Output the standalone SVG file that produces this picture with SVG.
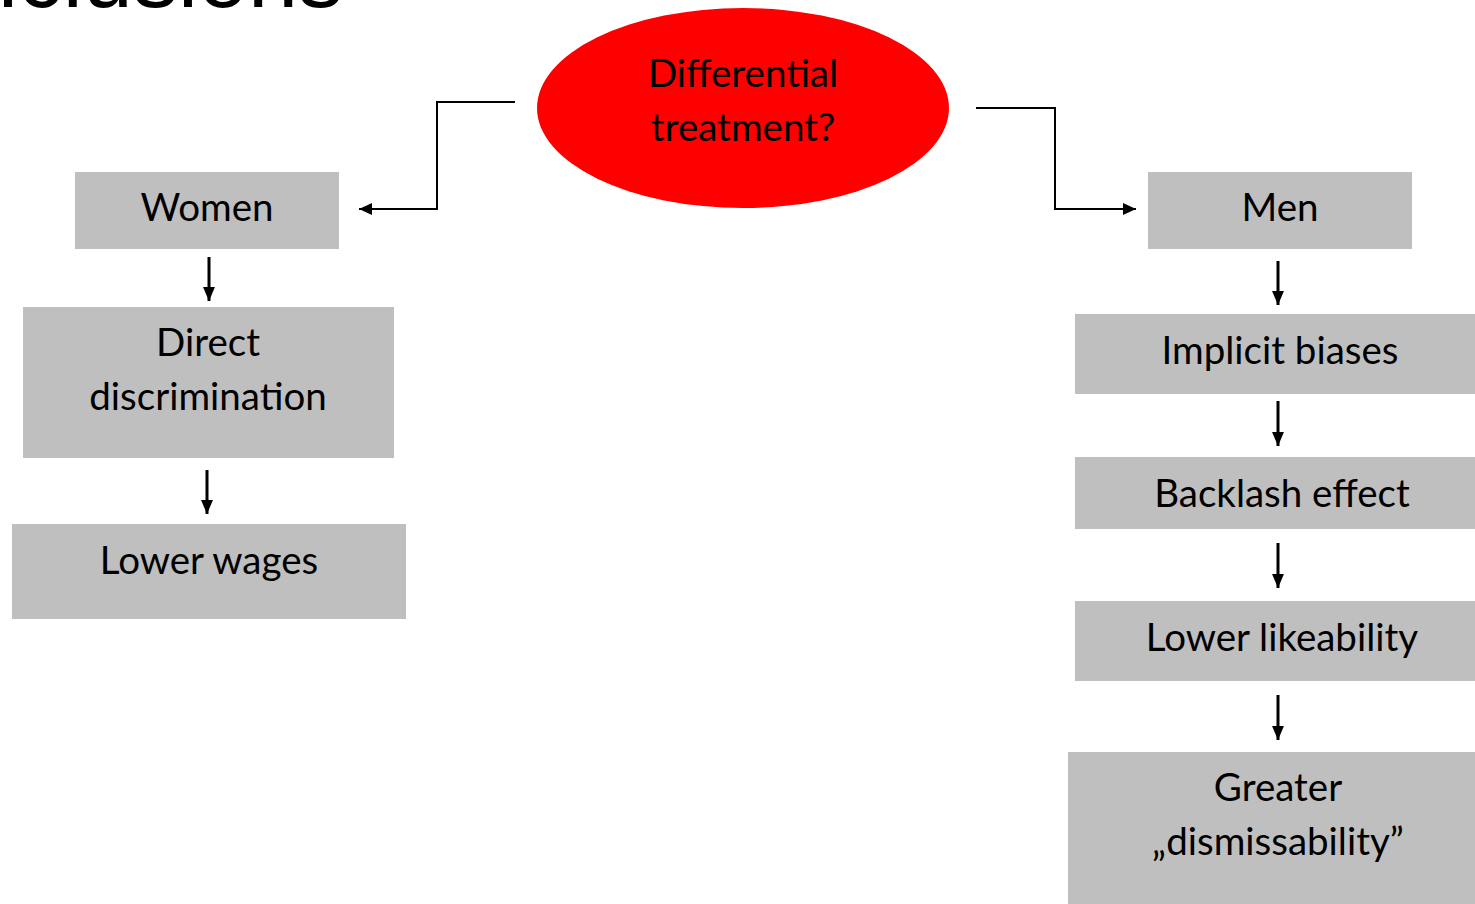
<svg xmlns="http://www.w3.org/2000/svg" width="1475" height="904" viewBox="0 0 1475 904">
  <defs>
    <marker id="head" viewBox="0 0 10 10" refX="10" refY="5" markerWidth="6.5" markerHeight="6" preserveAspectRatio="none" markerUnits="strokeWidth" orient="auto">
      <path d="M0,0 L10,5 L0,10 z" fill="#000"/>
    </marker>
    <marker id="headDown" viewBox="0 0 10 10" refX="10" refY="5" markerWidth="4.7" markerHeight="4" preserveAspectRatio="none" markerUnits="strokeWidth" orient="auto">
      <path d="M0,0 L10,5 L0,10 z" fill="#000"/>
    </marker>
    <style>
      .box { fill: #bfbfbf; }
      .lbl { font-family: Lato, "Open Sans", sans-serif; font-size: 38.5px; fill: #000; text-anchor: middle; }
      .title { font-family: "Liberation Sans", Arial, sans-serif; font-size: 90px; fill: #000; text-anchor: end; }
      .elbow { fill: none; stroke: #000; stroke-width: 2; marker-end: url(#head); }
      .down { fill: none; stroke: #000; stroke-width: 3; marker-end: url(#headDown); }
    </style>
  </defs>

  <rect width="1475" height="904" fill="#fff"/>

  <!-- slide heading, running off the top edge -->
  <text class="title" x="343" y="7">Conclusions</text>

  <g id="connectors">
    <polyline class="elbow" points="515,102 437,102 437,209 359,209"/>
    <polyline class="elbow" points="976,108 1055,108 1055,209 1136,209"/>
    <line class="down" x1="209" y1="257" x2="209" y2="301"/>
    <line class="down" x1="207" y1="470" x2="207" y2="514"/>
    <line class="down" x1="1278" y1="261" x2="1278" y2="305"/>
    <line class="down" x1="1278" y1="401" x2="1278" y2="446"/>
    <line class="down" x1="1278" y1="543" x2="1278" y2="588"/>
    <line class="down" x1="1278" y1="695" x2="1278" y2="740"/>
  </g>

  <g id="differential-treatment">
    <ellipse cx="743" cy="108" rx="206" ry="100" fill="#ff0000"/>
    <text class="lbl" x="743" y="87">Differential</text>
    <text class="lbl" x="743" y="141">treatment?</text>
  </g>

  <g id="women">
    <rect class="box" x="75" y="172" width="264" height="77"/>
    <text class="lbl" x="207" y="221">Women</text>
  </g>

  <g id="direct-discrimination">
    <rect class="box" x="23" y="307" width="371" height="151"/>
    <text class="lbl" x="208" y="356">Direct</text>
    <text class="lbl" x="208" y="410">discrimination</text>
  </g>

  <g id="lower-wages">
    <rect class="box" x="12" y="524" width="394" height="95"/>
    <text class="lbl" x="209" y="574">Lower wages</text>
  </g>

  <g id="men">
    <rect class="box" x="1148" y="172" width="264" height="77"/>
    <text class="lbl" x="1280" y="221">Men</text>
  </g>

  <g id="implicit-biases">
    <rect class="box" x="1075" y="314" width="400" height="80"/>
    <text class="lbl" x="1280" y="364">Implicit biases</text>
  </g>

  <g id="backlash-effect">
    <rect class="box" x="1075" y="457" width="400" height="72"/>
    <text class="lbl" x="1282" y="507">Backlash effect</text>
  </g>

  <g id="lower-likeability">
    <rect class="box" x="1075" y="601" width="400" height="80"/>
    <text class="lbl" x="1282" y="651">Lower likeability</text>
  </g>

  <g id="greater-dismissability">
    <rect class="box" x="1068" y="752" width="407" height="152"/>
    <text class="lbl" x="1278" y="801">Greater</text>
    <text class="lbl" x="1278" y="855">„dismissability”</text>
  </g>
</svg>
